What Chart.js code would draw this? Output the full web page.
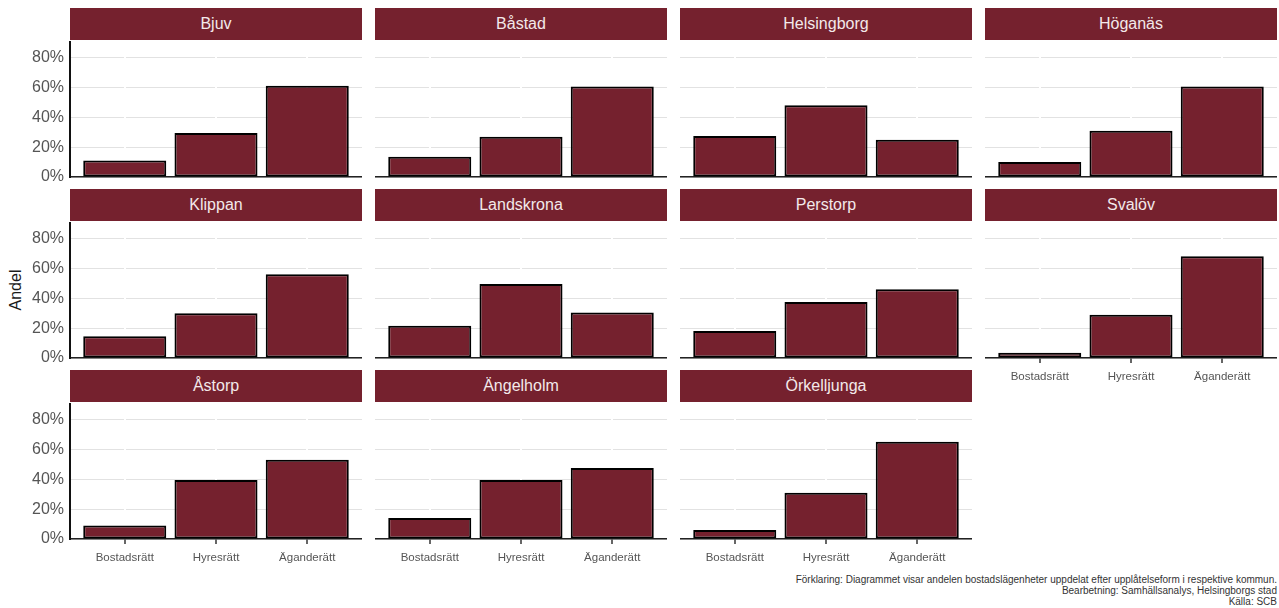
<!DOCTYPE html>
<html>
<head>
<meta charset="utf-8">
<script src="https://cdn.jsdelivr.net/npm/chart.js@4.4.0/dist/chart.umd.min.js"></script>
<style>
  body { margin: 0; background: #fff; font-family: "Liberation Sans", Arial, sans-serif; }
  #wrap { position: relative; width: 1279px; height: 608px; overflow: hidden; }
  .strip { position: absolute; width: 292px; height: 32px; line-height: 32px; background: #75212e;
           color: #f3e9ea; font-size: 16px; text-align: center; }
  canvas { position: absolute; }
  #ytitle { position: absolute; left: 16px; top: 290px; transform: translate(-50%, -50%) rotate(-90deg);
            font-size: 16px; color: #1a1a1a; white-space: nowrap; }
  #caption { position: absolute; right: 2px; top: 574px; font-size: 10px; line-height: 11px;
             color: #333; text-align: right; }
</style>
</head>
<body>
<div id="wrap">
  <div id="ytitle">Andel</div>
  <div id="caption">Förklaring: Diagrammet visar andelen bostadslägenheter uppdelat efter upplåtelseform i respektive kommun.<br>Bearbetning: Samhällsanalys, Helsingborgs stad<br>Källa: SCB</div>
</div>
<script>
// andel (%) per kommun och upplåtelseform
var kommuner = ["Bjuv", "Båstad", "Helsingborg", "Höganäs", "Klippan", "Landskrona",
                "Perstorp", "Svalöv", "Åstorp", "Ängelholm", "Örkelljunga"];
var kategorier = ["Bostadsrätt", "Hyresrätt", "Äganderätt"];
var bostadsratt = [11, 13.5, 27.5, 10, 14.5, 21.5, 18, 3.5, 9, 14, 6];
var hyresratt   = [29.5, 27, 48, 31, 30, 49.5, 37.5, 29, 39.5, 39.5, 31];
var aganderatt  = [61, 60.5, 25, 60.5, 56, 30.5, 46, 68, 53, 47.5, 65];
var yTicks = [0, 20, 40, 60, 80];

var colX = [70, 375, 680, 985];
var rowTop = [8, 189, 370];
var farg = "#75212e";
var wrap = document.getElementById("wrap");

kommuner.forEach(function (namn, i) {
    var col = i % 4, row = Math.floor(i / 4);
    var vanster = col === 0;
    var nederst = row === 2 || namn === "Svalöv";

    // rubrikremsa
    var strip = document.createElement("div");
    strip.className = "strip";
    strip.style.left = colX[col] + "px";
    strip.style.top = rowTop[row] + "px";
    strip.textContent = namn;
    wrap.appendChild(strip);

    var c = document.createElement("canvas");
    c.width = vanster ? colX[col] + 292 : 292;
    c.height = 166;
    c.style.left = (vanster ? 0 : colX[col]) + "px";
    c.style.top = (rowTop[row] + 33) + "px";
    wrap.appendChild(c);

    var varden = [bostadsratt[i], hyresratt[i], aganderatt[i]];

    new Chart(c, {
        type: "bar",
        data: {
            datasets: [{
                data: varden.map(function (v, j) { return { x: j, y: v }; }),
                backgroundColor: farg,
                borderColor: "#000",
                borderWidth: 2,
                borderSkipped: false,
                barPercentage: 0.91,
                categoryPercentage: 1
            }]
        },
        options: {
            responsive: false,
            animation: false,
            devicePixelRatio: 1,
            layout: { padding: 0, autoPadding: false },
            plugins: { legend: { display: false }, tooltip: { enabled: false } },
            scales: {
                x: {
                    type: "linear",
                    min: -0.6,
                    max: 2.6,
                    offset: false,
                    afterBuildTicks: function (s) {
                        s.ticks = kategorier.map(function (k, j) { return { value: j }; });
                    },
                    afterFit: function (s) { s.height = 30; },
                    ticks: {
                        display: nederst,
                        autoSkip: false,
                        maxRotation: 0,
                        padding: 7,
                        color: "#555",
                        font: { family: "Liberation Sans", size: 11.5 },
                        callback: function (v) { return kategorier[v]; }
                    },
                    grid: {
                        offset: false,
                        color: "#fff",
                        lineWidth: 2,
                        z: -1,
                        drawTicks: nederst,
                        tickLength: 5,
                        tickColor: "#333",
                        tickWidth: 1.5
                    },
                    border: { color: "#222", width: 1.5 }
                },
                y: {
                    min: 0,
                    max: 91,
                    afterBuildTicks: function (s) {
                        s.ticks = yTicks.map(function (v) { return { value: v }; });
                    },
                    afterFit: function (s) {
                        s.width = vanster ? colX[col] : 0;
                        s.paddingTop = 0;
                        s.paddingBottom = 0;
                    },
                    ticks: {
                        display: vanster,
                        padding: 6,
                        color: "#555",
                        font: { family: "Liberation Sans", size: 16 },
                        callback: function (v) { return v + "%"; }
                    },
                    grid: { color: "#e2e2e2", lineWidth: 1, drawTicks: false, z: -2 },
                    border: { display: vanster, color: "#111", width: 2 }
                }
            }
        }
    });
});
</script>
</body>
</html>
